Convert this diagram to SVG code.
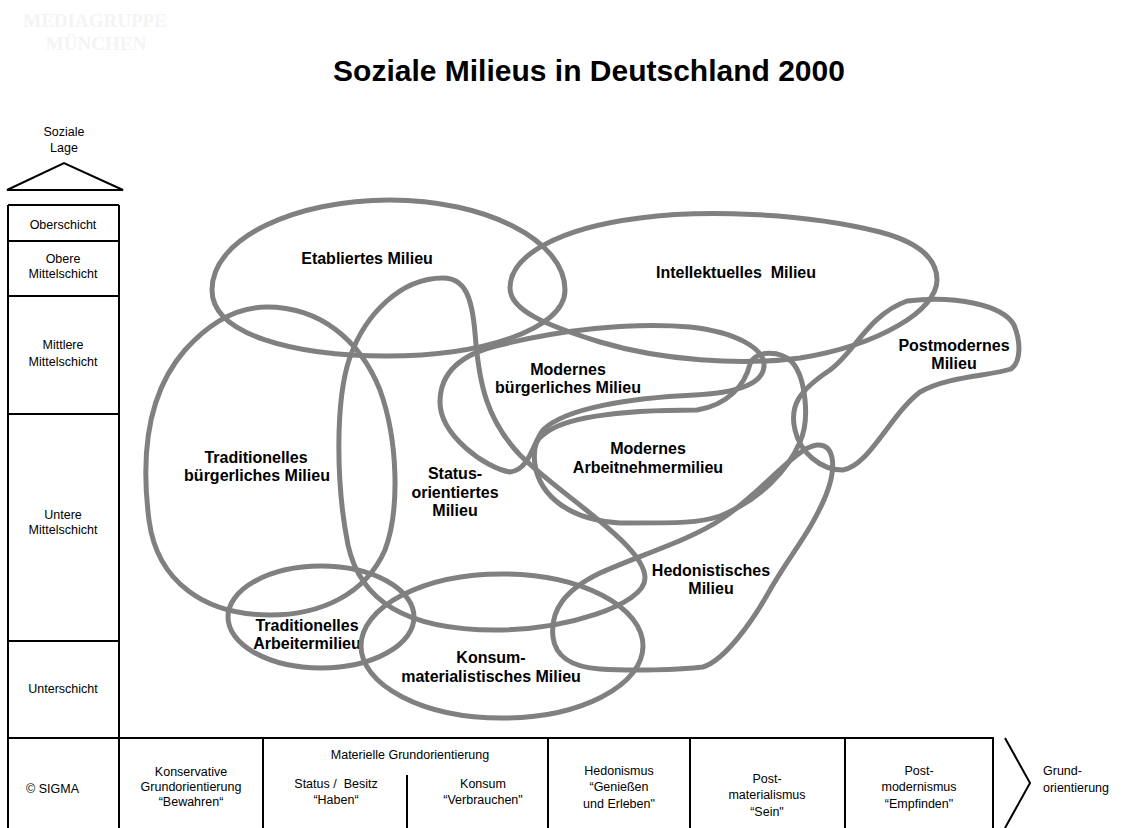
<svg xmlns="http://www.w3.org/2000/svg" width="1122" height="828" viewBox="0 0 1122 828">
<style>
.bg{fill:#ffffff}
.blob{fill:none;stroke:#808080;stroke-width:5;stroke-linejoin:round}
.ln{fill:none;stroke:#000000;stroke-width:2}
.lbl{font-family:"Liberation Sans",Arial,sans-serif;font-weight:bold;font-size:16px;fill:#000;text-anchor:middle}
.sm{font-family:"Liberation Sans",Arial,sans-serif;font-size:12.5px;fill:#000;text-anchor:middle}
.title{font-family:"Liberation Sans",Arial,sans-serif;font-weight:bold;font-size:30px;fill:#000;text-anchor:middle}
.wm{font-family:"Liberation Serif","Times New Roman",serif;font-weight:bold;font-size:19px;fill:#f4f4f4;text-anchor:middle}
</style>
<rect class="bg" x="0" y="0" width="1122" height="828"/>
<g id="watermark">
<text class="wm" x="95" y="27">MEDIAGRUPPE</text>
<text class="wm" x="96" y="50">MÜNCHEN</text>
</g>
<text class="title" x="589" y="81">Soziale Milieus in Deutschland 2000</text>

<g id="axis-soziale-lage">
<text class="sm" x="64" y="136">Soziale</text>
<text class="sm" x="64" y="152">Lage</text>
<polygon class="ln" points="7,190 64,163 123,190"/>
</g>

<g id="schicht-column">
<line class="ln" x1="8" y1="205" x2="8" y2="828"/>
<line class="ln" x1="119" y1="205" x2="119" y2="828"/>
<line class="ln" x1="8" y1="205" x2="119" y2="205"/>
<line class="ln" x1="8" y1="241" x2="119" y2="241"/>
<line class="ln" x1="8" y1="296" x2="119" y2="296"/>
<line class="ln" x1="8" y1="414" x2="119" y2="414"/>
<line class="ln" x1="8" y1="641" x2="119" y2="641"/>
<text class="sm" x="63" y="228.5">Oberschicht</text>
<text class="sm" x="63" y="262.5">Obere</text>
<text class="sm" x="63" y="277.5">Mittelschicht</text>
<text class="sm" x="63" y="348.5">Mittlere</text>
<text class="sm" x="63" y="365.5">Mittelschicht</text>
<text class="sm" x="63" y="518.5">Untere</text>
<text class="sm" x="63" y="534">Mittelschicht</text>
<text class="sm" x="63" y="693">Unterschicht</text>
<text class="sm" x="26" y="793" style="text-anchor:start">© SIGMA</text>
</g>

<g id="grundorientierung-row">
<line class="ln" x1="8" y1="738" x2="994" y2="738"/>
<line class="ln" x1="263" y1="738" x2="263" y2="828"/>
<line class="ln" x1="548" y1="738" x2="548" y2="828"/>
<line class="ln" x1="407" y1="775" x2="407" y2="828"/>
<line class="ln" x1="690" y1="738" x2="690" y2="828"/>
<line class="ln" x1="845" y1="738" x2="845" y2="828"/>
<line class="ln" x1="993" y1="738" x2="993" y2="828"/>
<polyline class="ln" points="1005,738 1030,783 1005,828"/>
<text class="sm" x="191" y="775.5">Konservative</text>
<text class="sm" x="191" y="790.5">Grundorientierung</text>
<text class="sm" x="191" y="805.5">“Bewahren“</text>
<text class="sm" x="410" y="758.5">Materielle Grundorientierung</text>
<text class="sm" x="336" y="788" xml:space="preserve">Status /  Besitz</text>
<text class="sm" x="336" y="803.5">“Haben“</text>
<text class="sm" x="483" y="787.5">Konsum</text>
<text class="sm" x="483" y="803.5">“Verbrauchen"</text>
<text class="sm" x="619" y="774.5">Hedonismus</text>
<text class="sm" x="619" y="791">“Genießen</text>
<text class="sm" x="619" y="807.5">und Erleben"</text>
<text class="sm" x="767" y="782.5">Post-</text>
<text class="sm" x="767" y="799">materialismus</text>
<text class="sm" x="767" y="816">“Sein"</text>
<text class="sm" x="919" y="774.5">Post-</text>
<text class="sm" x="919" y="791">modernismus</text>
<text class="sm" x="919" y="807.5">“Empfinden"</text>
<text class="sm" x="1043" y="774.5" style="text-anchor:start">Grund-</text>
<text class="sm" x="1043" y="792" style="text-anchor:start">orientierung</text>
</g>

<g id="milieu-etabliert">
<path class="blob" d="M212,290 C212,238 295,200 390,200 C485,200 565,240 565,290 C565,330 480,356 387,356 C295,356 212,335 212,290 Z"/>
<text class="lbl" x="367" y="264">Etabliertes Milieu</text>
</g>
<g id="milieu-intellektuell">
<path class="blob" d="M510,288 C510,255 560,228 640,218 C700,210 800,212 880,232 C925,244 937,262 937,280 C937,310 880,345 800,358 C740,366 660,360 600,342 C545,325 510,310 510,288 Z"/>
<text class="lbl" x="736" y="278" xml:space="preserve">Intellektuelles  Milieu</text>
</g>
<g id="milieu-postmodern">
<path class="blob" d="M907,301 C955,295 1003,305 1014,325 C1021,342 1021,362 1011,369 C990,376 948,376 920,392 C890,415 870,465 843,470 C820,470 800,452 795,430 C789,405 800,390 830,370 C855,352 868,315 907,301 Z"/>
<text class="lbl" x="954" y="351">Postmodernes</text>
<text class="lbl" x="954" y="369">Milieu</text>
</g>
<g id="milieu-modern-buergerlich">
<path class="blob" d="M510,472 C485,468 440,435 440,402 C440,370 465,353 500,345 C560,330 630,322 690,327 C735,332 765,348 764,366 C763,385 735,393 695,395 C630,398 565,408 543,430 C533,442 530,470 510,472 Z"/>
<text class="lbl" x="568" y="375">Modernes</text>
<text class="lbl" x="568" y="393">bürgerliches Milieu</text>
</g>
<g id="milieu-statusorientiert">
<path class="blob" d="M443,278 C465,278 472,297 475,333 C479,385 487,420 520,455 C560,495 645,545 645,578 C645,605 565,630 495,630 C405,630 360,600 348,545 C336,485 335,400 350,357 C365,315 400,278 443,278 Z"/>
<text class="lbl" x="455" y="479">Status-</text>
<text class="lbl" x="455" y="498">orientiertes</text>
<text class="lbl" x="455" y="516">Milieu</text>
</g>
<g id="milieu-traditionell-buergerlich">
<path class="blob" d="M267,307 C320,307 360,340 380,390 C398,440 400,510 385,550 C365,595 320,615 270,615 C205,615 157,582 149,520 C140,450 150,390 185,350 C210,322 238,307 267,307 Z"/>
<text class="lbl" x="256" y="463">Traditionelles</text>
<text class="lbl" x="257" y="481">bürgerliches Milieu</text>
</g>
<g id="milieu-modern-arbeitnehmer">
<path class="blob" d="M543,435 C565,415 630,410 697,410 C728,405 745,385 750,364 C755,350 780,350 792,362 C806,378 810,420 800,442 C788,470 760,500 720,516 C700,523 680,523 620,523 C568,520 540,495 535,465 C533,450 535,440 543,435 Z"/>
<text class="lbl" x="648" y="454">Modernes</text>
<text class="lbl" x="648" y="473">Arbeitnehmermilieu</text>
</g>
<g id="milieu-hedonistisch">
<path class="blob" d="M553,637 C550,610 565,590 600,573 C640,555 690,540 720,520 C760,495 795,447 817,445 C836,444 836,470 826,495 C812,530 790,555 770,590 C752,622 725,660 703,667 C680,670 630,671 600,669 C570,667 555,655 553,637 Z"/>
<text class="lbl" x="711" y="576">Hedonistisches</text>
<text class="lbl" x="711" y="594">Milieu</text>
</g>
<g id="milieu-traditionell-arbeiter">
<ellipse class="blob" cx="321" cy="617" rx="93" ry="51"/>
<text class="lbl" x="307" y="631">Traditionelles</text>
<text class="lbl" x="307" y="649">Arbeitermilieu</text>
</g>
<g id="milieu-konsum">
<ellipse class="blob" cx="502" cy="646" rx="141" ry="72"/>
<text class="lbl" x="491" y="663">Konsum-</text>
<text class="lbl" x="491" y="682">materialistisches Milieu</text>
</g>
<g id="connectors"></g>
</svg>
